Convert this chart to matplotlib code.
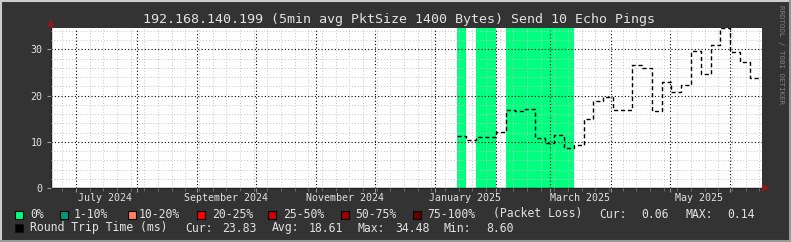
import numpy as np
import pandas as pd
import matplotlib
matplotlib.use("Agg")
import matplotlib.pyplot as plt
import matplotlib.dates as mdates
from matplotlib.patches import Rectangle

W, H = 791, 242

# --- data ---
title = "192.168.140.199 (5min avg PktSize 1400 Bytes) Send 10 Echo Pings"
step_start = "2025-01-12"
step_days = 5
rtt_ms = [11.2, 10.4, 11.0, 11.0, 12.1, 16.9, 16.6, 17.1, 10.8, 9.7,
          11.4, 8.6, 9.3, 15.0, 18.8, 19.7, 16.9, 16.9, 26.6, 25.9,
          16.7, 23.0, 20.7, 22.2, 29.7, 24.7, 31.0, 34.48, 29.4, 27.2, 23.83]
loss_pct = [0, 0.10, 0, 0, 0.12, 0, 0, 0, 0, 0,
            0, 0, 0.08, 0.10, 0.14, 0.09, 0.07, 0.11, 0.10, 0.12,
            0.08, 0.09, 0.10, 0.13, 0.07, 0.09, 0.11, 0.10, 0.08, 0.07, 0.06]
loss_labels = ["0%", "1-10%", "10-20%", "20-25%", "25-50%", "50-75%", "75-100%"]
loss_limits = [0, 10, 20, 25, 50, 75, 100]
loss_colors = ["#00ff7f", "#00997a", "#ff7f5f", "#ff0000", "#cc0000", "#990000", "#660000"]
x_start = pd.Timestamp("2024-06-18 05:00")
x_end = pd.Timestamp("2025-06-17 05:00")
month_labels = ["2024-07", "2024-09", "2024-11", "2025-01", "2025-03", "2025-05"]

BG = "#333333"
FG = "#e2e2e2"

edges = pd.date_range(step_start, periods=len(rtt_ms) + 1, freq=f"{step_days}D")

fig = plt.figure(figsize=(W / 100, H / 100), dpi=100, facecolor=BG)
ax = fig.add_axes([51 / W, 1 - 188.3 / H, (761.7 - 51) / W, (188.3 - 28) / H])
ax.set_facecolor("white")

ymax = max(rtt_ms) + 0.1
# packet loss bands
for i, l in enumerate(loss_pct):
    if l == 0:
        c = loss_colors[0]
    elif l >= 1:
        c = loss_colors[min(j for j, lim in enumerate(loss_limits) if l <= lim)]
    else:
        continue
    ax.axvspan(edges[i], edges[i + 1], color=c, lw=0, zorder=1)

ax.step(edges, rtt_ms + [rtt_ms[-1]], where="post", color="black",
        lw=1, ls=(0, (3, 2)), zorder=3)

ax.set_xlim(x_start, x_end)
ax.set_ylim(0, ymax)

ax.xaxis.set_major_locator(mdates.MonthLocator())
ax.xaxis.set_minor_locator(mdates.WeekdayLocator(byweekday=mdates.MO))
ax.xaxis.set_major_formatter(plt.NullFormatter())
ax.set_yticks([0, 10, 20, 30])
ax.set_yticks(np.arange(0, 35, 2), minor=True)
ax.grid(which="minor", color="#c4c4c4", lw=0.7, ls=(0, (1, 2)), zorder=2)
ax.grid(which="major", color="black", lw=0.8, ls=(0, (1, 2)), zorder=2)
ax.set_axisbelow(False)

for s in ["top", "right"]:
    ax.spines[s].set_visible(False)
for s in ["left", "bottom"]:
    ax.spines[s].set_color("#222222")
    ax.spines[s].set_linewidth(1)

ax.tick_params(axis="y", which="major", length=3, color="#999999",
               labelcolor=FG, labelsize=7.2, labelfontfamily="DejaVu Sans Mono", pad=3)
ax.tick_params(axis="y", which="minor", length=0)
ax.tick_params(axis="x", which="major", length=3, color="#999999")
ax.tick_params(axis="x", which="minor", length=2, color="#777777")

for m in month_labels:
    mid = pd.Timestamp(m + "-16")
    ax.text(mid, -0.06, mid.strftime("%B %Y"), transform=ax.get_xaxis_transform(),
            ha="center", va="center", fontsize=7.2, color=FG, family="DejaVu Sans Mono")

fig.text(398.5 / W, 1 - 19 / H, title, ha="center", va="center",
         fontsize=9.6, color=FG, family="DejaVu Sans Mono")

# arrows at axis ends
fig.add_artist(plt.Line2D([51 / W], [1 - 23 / H], marker="^", ms=6, mew=0,
                          color="#8b1a1a", transform=fig.transFigure))
fig.add_artist(plt.Line2D([766 / W], [1 - 188 / H], marker=">", ms=6, mew=0,
                          color="#8b1a1a", transform=fig.transFigure))

# legend, row 1
def ftxt(x, y, s, **kw):
    fig.text(x / W, 1 - y / H, s, ha="left", va="center", fontsize=8.3,
             color=FG, family="DejaVu Sans Mono", **kw)

def square(x, y, c, ec="black"):
    fig.add_artist(Rectangle((x / W, 1 - (y + 4) / H), 8 / W, 8 / H, facecolor=c,
                             edgecolor=ec, lw=0.8, transform=fig.transFigure))

sq_x = [15, 60, 128, 197, 268, 341, 413]
tx_x = [30, 74, 139, 212, 283, 355, 427]
for lab, c, sx, tx in zip(loss_labels, loss_colors, sq_x, tx_x):
    square(sx, 214.5, c)
    ftxt(tx, 214, lab)
ftxt(493, 214, "(Packet Loss)")
ftxt(599, 214, "Cur:")
ftxt(641, 214, f"{loss_pct[-1]:.2f}")
ftxt(685, 214, "MAX:")
ftxt(727, 214, f"{max(loss_pct):.2f}")

# legend, row 2
square(15, 228, "black", ec="#111111")
ftxt(30, 228, "Round Trip Time (ms)")
ftxt(185, 228, "Cur:")
ftxt(222, 228, f"{rtt_ms[-1]:.2f}")
ftxt(272, 228, "Avg:")
ftxt(309, 228, "18.61")
ftxt(358, 228, "Max:")
ftxt(395, 228, f"{max(rtt_ms):.2f}")
ftxt(443, 228, "Min:")
ftxt(486, 228, f"{min(rtt_ms):.2f}")

fig.text(781 / W, 1 - 5 / H, "RRDTOOL / TOBI OETIKER", rotation=270, ha="center",
         va="top", fontsize=5.4, color="#808080", family="DejaVu Sans Mono")

# frame
def fline(x0, y0, x1, y1, c):
    fig.add_artist(plt.Line2D([x0 / W, x1 / W], [1 - y0 / H, 1 - y1 / H], color=c,
                              lw=1.5, transform=fig.transFigure))

fline(0, 0.7, W, 0.7, "#cccccc")
fline(0.7, 0, 0.7, H, "#cccccc")
fline(W - 0.7, 0, W - 0.7, H, "#999999")
fline(0, H - 0.7, W, H - 0.7, "#999999")

fig.savefig("out.png", dpi=100, facecolor=BG)
